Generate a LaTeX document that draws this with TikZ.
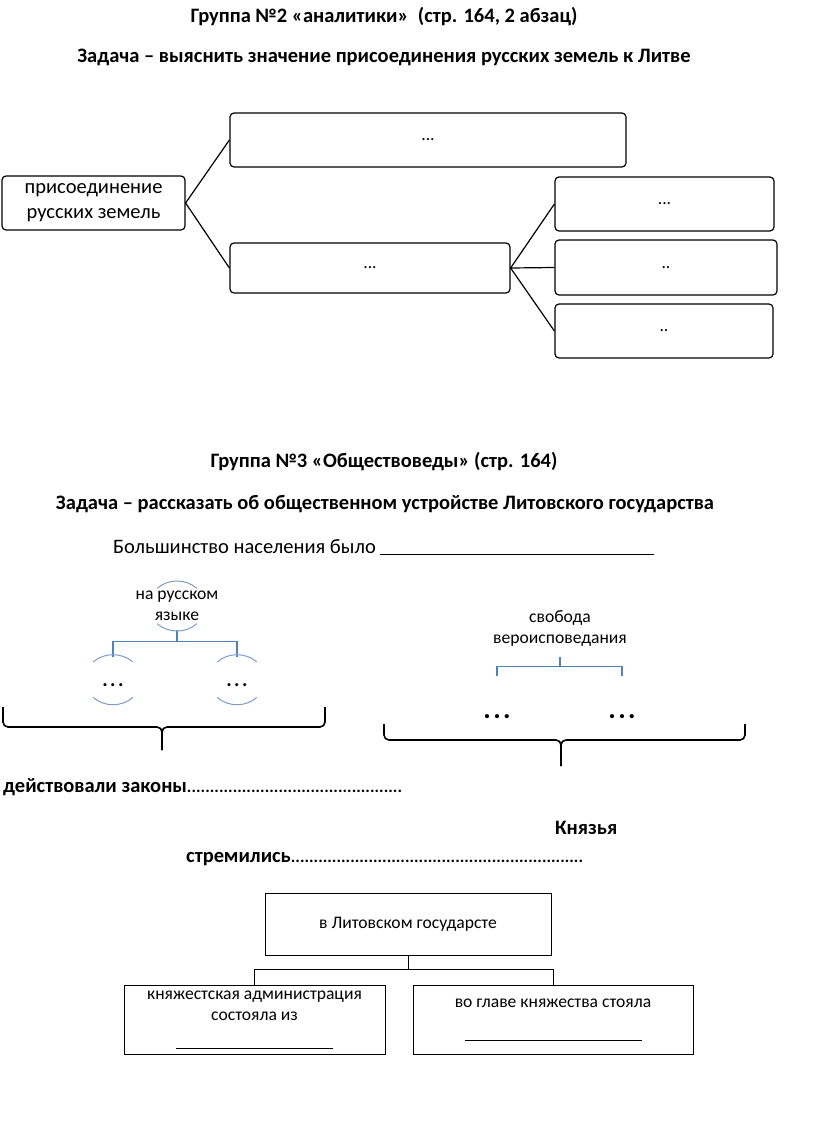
\documentclass[tikz,border=0pt]{standalone}
\usepackage{fontspec}
\setmainfont{Carlito}
\usepackage{tikz}

\definecolor{treeblue}{HTML}{4F81BD}
\definecolor{arcblue}{HTML}{7F9CC4}
\newcommand{\fsbig}{\fontsize{20.5}{25}\selectfont}
\newcommand{\fssmall}{\fontsize{17.6}{21}\selectfont}
\newcommand{\spdots}{.\kern2.5pt.\kern2.5pt.}
\newcommand{\leaderdots}{\xleaders\hbox{\fontsize{17}{17}\selectfont.}\hfill}

\tikzset{
	rbox/.style={draw, line width=1.2pt, rounded corners=4pt, inner sep=0pt, align=center},
	sbox/.style={draw, line width=1pt, inner sep=0pt, align=center},
	twig/.style={draw=treeblue, line width=1.1pt},
	bow/.style={draw=arcblue, line width=1pt},
	brc/.style={line width=1.6pt, rounded corners=5pt},
	head/.style={font=\fsbig\bfseries, anchor=base, inner sep=0pt},
	lead/.style={font=\fsbig\bfseries, anchor=base west, inner sep=0pt},
}

\begin{document}
\begin{tikzpicture}[x=1pt, y=-1pt]
				\fill[white] (0,0) rectangle (816,1125);
				% Группа 2
				\node[head] (t1) at (384,22) {Группа №2 «аналитики»\ \ (стр. 164, 2 абзац)};
				\node[head] (t2) at (384,62) {Задача – выяснить значение присоединения русских земель к Литве};
				\node[rbox, minimum width=183pt, minimum height=54pt, font=\fsbig] (root) at (93.5,203) {присоединение\\русских земель};
				\node[rbox, minimum width=396pt, minimum height=54pt, font=\fssmall] (up) at (428,140) {...};
				\node[rbox, minimum width=280pt, minimum height=50pt, font=\fssmall] (mid) at (370,268) {...};
				\node[rbox, minimum width=219pt, minimum height=54pt, font=\fssmall] (r1) at (664.5,204) {...};
				\node[rbox, minimum width=222pt, minimum height=55pt, font=\fssmall] (r2) at (666,267.5) {..};
				\node[rbox, minimum width=218pt, minimum height=54pt, font=\fssmall] (r3) at (664,331) {..};
				\draw[line width=1.2pt] (root.east) -- (up.west);
				\draw[line width=1.2pt] (root.east) -- (mid.west);
				\foreach \r in {r1,r2,r3}
					\draw[line width=1.2pt] (mid.east) -- (\r.west);
				% Группа 3
				\node[head] (t3) at (384,467) {Группа №3 «Обществоведы» (стр. 164)};
				\node[head] (t4) at (385,509) {Задача – рассказать об общественном устройстве Литовского государства};
				\node[font=\fsbig, anchor=base west, inner sep=0pt] (most) at (113,553) {Большинство населения было \rule[-2pt]{274pt}{0.8pt}};
				% язык
				\node[font=\fssmall, align=center, inner sep=0pt, minimum height=48pt] (lang) at (177,606) {на русском\\языке};
				\node[font=\fsbig\bfseries, inner sep=0pt, minimum height=56pt] (l1) at (113,685) {\spdots};
				\node[font=\fsbig\bfseries, inner sep=0pt, minimum height=56pt] (l2) at (237,685) {\spdots};
				\draw[twig] (lang.south) -- ++(0,11) coordinate (fork) -| (l1.north);
				\draw[twig] (fork) -| (l2.north);
				\draw[bow] (lang.center) ++(-19.8,-17.7) arc[start angle=225, end angle=315, x radius=28, y radius=25];
				\draw[bow] (lang.center) ++(-19.8,17.7) arc[start angle=135, end angle=45, x radius=28, y radius=25];
				\foreach \n in {l1,l2} {
					\draw[bow] (\n.center) ++(-19.8,-23) arc[start angle=225, end angle=315, x radius=28, y radius=25];
					\draw[bow] (\n.center) ++(-19.8,12.4) arc[start angle=135, end angle=45, x radius=28, y radius=25];
				}
				\draw[brc] (3,707) |- (162,727) -- (162,750);
				\draw[brc] (325,707) |- (162,727) -- (162,750);
				% вера
				\node[font=\fssmall, align=center, inner sep=0pt, minimum height=58pt] (faith) at (560,628) {свобода\\вероисповедания};
				\node[font=\fontsize{28}{30}\selectfont\bfseries, inner sep=0pt, minimum height=82pt] (d1) at (497,717) {\spdots};
				\node[font=\fontsize{28}{30}\selectfont\bfseries, inner sep=0pt, minimum height=82pt] (d2) at (622,717) {\spdots};
				\draw[twig] (faith.south) -- ++(0,9) coordinate (fork2) -| (d1.north);
				\draw[twig] (fork2) -| (d2.north);
				\draw[brc] (384,724) |- (561,740) -- (561,766);
				\draw[brc] (745,724) |- (561,740) -- (561,766);
				% законы, князья
				\node[lead] (laws) at (3,792) {\makebox[399pt][l]{действовали законы\leaderdots}};
				\node[lead] (princes) at (555,834) {Князья};
				\node[lead] (aim) at (186,862) {\makebox[397pt][l]{стремились\leaderdots}};
				% государство
				\node[sbox, minimum width=286pt, minimum height=62pt, font=\fssmall] (state) at (408,924) {в Литовском государсте};
				\node[sbox, minimum width=261pt, minimum height=69pt, font=\fssmall] (admin) at (254.5,1019.5) {княжестская администрация\\состояла из\\[7pt]\rule{157pt}{0.6pt}};
				\node[sbox, minimum width=280pt, minimum height=69pt, font=\fssmall] (chief) at (553,1019.5) {во главе княжества стояла\\[12pt]\rule{177pt}{0.6pt}};
				\draw[line width=1pt] (state.south) -- ++(0,14) coordinate (fork3) -| (admin.north);
				\draw[line width=1pt] (fork3) -| (chief.north);
\end{tikzpicture}
\end{document}
